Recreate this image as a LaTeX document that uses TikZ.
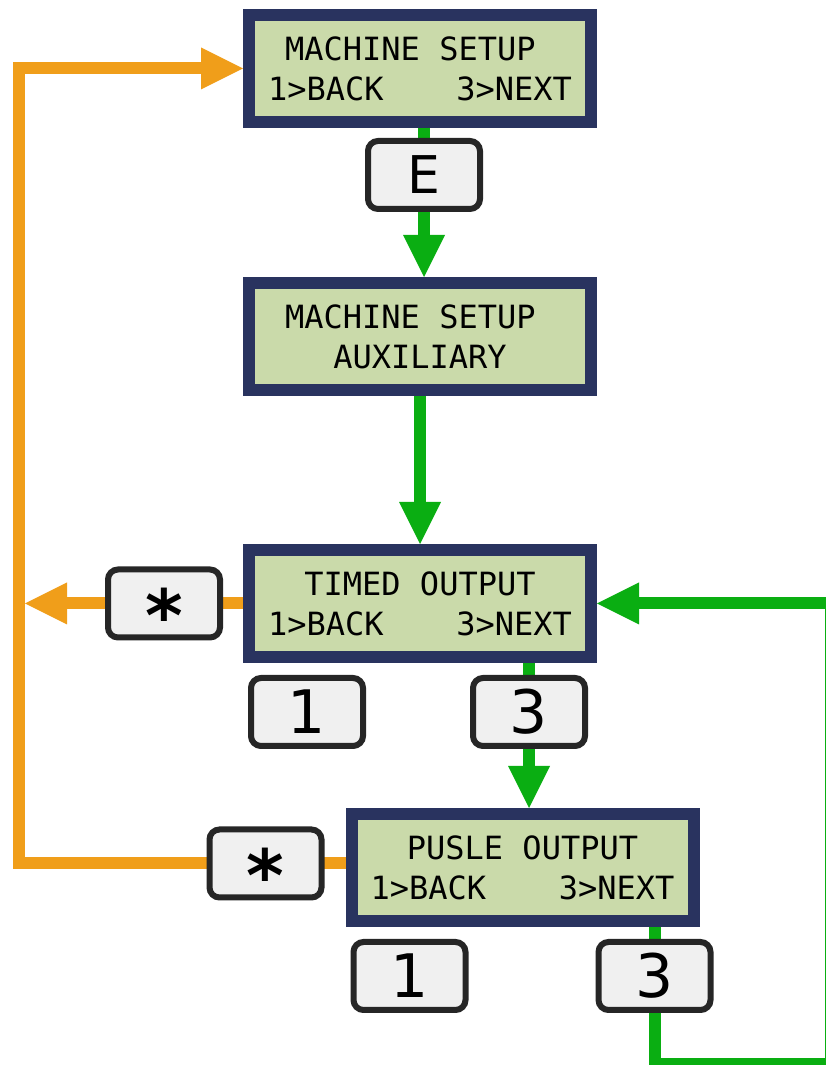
\documentclass[tikz,border=0pt]{standalone}
\usepackage{fontspec}
\usepackage{xcolor}
\usetikzlibrary{arrows.meta, positioning, calc, backgrounds}
\newfontfamily\lcdfont{DejaVu Sans Mono}
\newfontfamily\keyfont{DejaVu Sans}
\definecolor{lcdnavy}{HTML}{29335F}
\definecolor{lcdgreen}{HTML}{CADAAA}
\definecolor{flowgreen}{HTML}{0AAE12}
\definecolor{flowamber}{HTML}{F09E1A}
\definecolor{keyface}{HTML}{F0F0F0}
\newcommand{\menurow}{\makebox[304pt]{1>BACK\hfill3>NEXT}}

\begin{document}
\begin{tikzpicture}[x=1pt, y=1pt,
    lcd/.style={rectangle, draw=lcdnavy, line width=12pt, fill=lcdgreen,
        minimum width=342pt, minimum height=107pt, align=center,
        font=\lcdfont\fontsize{32}{40}\selectfont},
    key/.style={rectangle, rounded corners=10pt, draw=black!85, line width=6pt,
        fill=keyface, minimum width=112pt, minimum height=68pt, inner sep=0pt,
        font=\keyfont\fontsize{60}{60}\selectfont},
    starkey/.style={key, font=\keyfont\bfseries\fontsize{72}{72}\selectfont},
    nextarrow/.style={draw=flowgreen, line width=12pt,
        -{Triangle[length=42pt, width=42pt, line width=0pt]}},
    backarrow/.style={draw=flowamber, line width=12pt,
        -{Triangle[length=42pt, width=42pt, line width=0pt]}}]
    \useasboundingbox (0,0) rectangle (825,1065);

    % menu screens
    \node[lcd] (setup) at (420,996.5) {MACHINE SETUP\hphantom{X}\\\menurow};
    \node[lcd, below=149pt of setup] (auxiliary) {MACHINE SETUP\hphantom{X}\\AUXILIARY};
    \node[lcd, below=148pt of auxiliary] (timed) {TIMED OUTPUT\\\menurow};
    \node[lcd, below=145pt of timed, xshift=102.5pt] (pulse) {PUSLE OUTPUT\\\menurow};

    % keys
    \node[key, below=10pt of setup, xshift=4pt,
        font=\keyfont\fontsize{52}{52}\selectfont] (enter) {E};
    \node[starkey, left=20pt of timed] (timedstar) {\raisebox{-0.53em}[0.17em][0.17em]{*}};
    \node[key, below right=12pt and 5pt of timed.south west] (timedback) {1};
    \node[key, below left=12pt and 9pt of timed.south east] (timednext) {3};
    \node[starkey, left=21pt of pulse, yshift=4pt] (pulsestar) {\raisebox{-0.53em}[0.17em][0.17em]{*}};
    \node[key, below right=12pt and 5pt of pulse.south west] (pulseback) {1};
    \node[key, below left=12pt and -14pt of pulse.south east] (pulsenext) {3};

    \coordinate (loopcorner) at (831,1);
    \coordinate (backcorner) at (19,0);
    \coordinate (backtip) at (25,0);

    \begin{scope}[on background layer]
        \draw[nextarrow] (enter |- setup.south) -- (enter |- auxiliary.north);
        \draw[nextarrow] (auxiliary) -- (timed);
        \draw[nextarrow] (timednext |- timed.south) -- (timednext |- pulse.north);
        \draw[nextarrow] (pulsenext |- pulse.south) |- (loopcorner) |- (timed.east);
        \draw[backarrow] (timedstar -| timed.west) -- (timedstar -| backtip);
        \draw[backarrow] (pulsestar -| pulse.west) -| (backcorner |- setup.west) -- (setup.west);
    \end{scope}
\end{tikzpicture}
\end{document}
